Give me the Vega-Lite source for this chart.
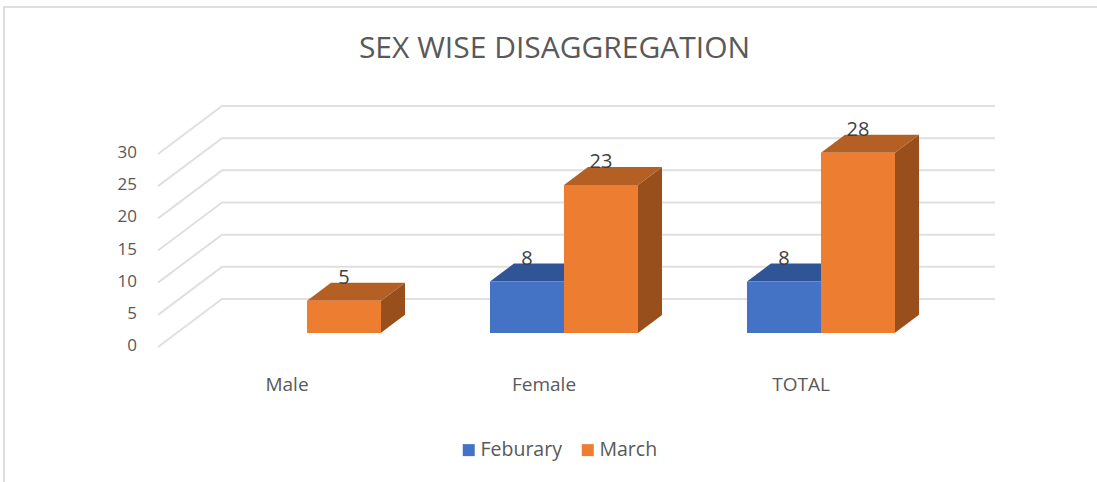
{
"$schema":"https://vega.github.io/schema/vega-lite/v6.json",
"width":835,"height":193,
"autosize":{"type":"none"},
"padding":{"left":160,"top":140,"right":102,"bottom":149},
"background":"white",
"title":{"text":"SEX WISE DISAGGREGATION","font":"Open Sans","fontSize":30,"fontWeight":"normal","color":"#595959","anchor":"middle","frame":"group","dx":-23,"offset":-61},
"config":{"view":{"stroke":null},"font":"Open Sans",
 "axisX":{"labelAngle":0,"domain":false,"ticks":false,"grid":false,"labelOffset":-20,"labelPadding":42,"labelFontSize":19,"labelFont":"Open Sans","labelColor":"#595959","title":null}},
"datasets":{
"bars":[
{"category":"Male","month":"Feburary","count":null},
{"category":"Male","month":"March","count":5},
{"category":"Female","month":"Feburary","count":8},
{"category":"Female","month":"March","count":23},
{"category":"TOTAL","month":"Feburary","count":8},
{"category":"TOTAL","month":"March","count":28}],
"ticks":[{"tick":0},{"tick":5},{"tick":10},{"tick":15},{"tick":20},{"tick":25},{"tick":30}]
},
"layer":[
{"data":{"values":[{"frame":"chart area"}]},
 "mark":{"type":"point","filled":false,"shape":"M -573.5 245.5 L -573.5 -229.5 L 519.5 -229.5","size":4,"stroke":"#dedede","strokeWidth":2,"opacity":1},
 "encoding":{}},
{"data":{"name":"ticks"},
 "mark":{"type":"point","filled":false,"shape":"M -419.5 14 L -355.5 -34 L 417.5 -34","size":4,"stroke":"#e0e0e0","strokeWidth":2,"opacity":1},
 "encoding":{"y":{"field":"tick","type":"quantitative","scale":{"domain":[0,30],"nice":false},"axis":null}}},
{"data":{"name":"ticks"},
 "mark":{"type":"text","align":"right","baseline":"middle","dx":-440.5,"dy":13,"fontSize":17,"font":"Open Sans","color":"#595959"},
 "encoding":{"y":{"field":"tick","type":"quantitative","axis":null},"text":{"field":"tick","type":"quantitative"}}},
{"data":{"name":"bars"},
 "mark":{"type":"point","filled":true,"size":4,"opacity":1,"strokeWidth":0},
 "encoding":{
  "x":{"field":"category","type":"nominal","sort":["Male","Female","TOTAL"],"title":null,"scale":{"paddingInner":0.424,"paddingOuter":0.3366,"align":0.422}},
  "xOffset":{"field":"month","type":"nominal","sort":["Feburary","March"],"scale":{"paddingInner":0,"paddingOuter":0}},
  "y":{"field":"count","type":"quantitative","axis":null},
  "shape":{"field":"count","type":"nominal","legend":null,"scale":{"domain":[5,8,23,28],"range":[
    "M 37 0 L 61 -18 L 61 14 L 37 32 Z",
    "M 37 0 L 61 -18 L 61 33 L 37 51 Z",
    "M 37 0 L 61 -18 L 61 130 L 37 148 Z",
    "M 37 0 L 61 -18 L 61 162 L 37 180 Z"]}},
  "color":{"field":"month","type":"nominal","legend":null,"scale":{"domain":["Feburary","March"],"range":["#2f5597","#994f1c"]}}
 }},
{"data":{"name":"bars"},
 "mark":{"type":"point","filled":true,"size":4,"opacity":1,"strokeWidth":0,"shape":"M -37 0 L 37 0 L 61 -18 L -13 -18 Z"},
 "encoding":{
  "x":{"field":"category","type":"nominal","sort":["Male","Female","TOTAL"],"title":null},
  "xOffset":{"field":"month","type":"nominal","sort":["Feburary","March"]},
  "y":{"field":"count","type":"quantitative","axis":null},
  "color":{"field":"month","type":"nominal","legend":null,"scale":{"domain":["Feburary","March"],"range":["#2f5597","#b45f24"]}}
 }},
{"data":{"name":"bars"},
 "mark":{"type":"bar"},
 "encoding":{
  "x":{"field":"category","type":"nominal","sort":["Male","Female","TOTAL"],"title":null},
  "xOffset":{"field":"month","type":"nominal","sort":["Feburary","March"]},
  "y":{"field":"count","type":"quantitative","axis":null},
  "color":{"field":"month","type":"nominal","scale":{"domain":["Feburary","March"],"range":["#4472c4","#ed7d31"]},
    "legend":{"title":null,"orient":"none","legendX":299,"legendY":300,"direction":"horizontal","symbolType":"square","symbolSize":144,"symbolStrokeWidth":0,"symbolOpacity":1,"labelFontSize":19.5,"labelFont":"Open Sans","labelColor":"#595959","columnPadding":16,"labelOffset":2}}
 }},
{"data":{"name":"bars"},
 "mark":{"type":"text","dy":-23,"fontSize":20,"font":"Open Sans","color":"#404040"},
 "encoding":{
  "x":{"field":"category","type":"nominal","sort":["Male","Female","TOTAL"],"title":null},
  "xOffset":{"field":"month","type":"nominal","sort":["Feburary","March"]},
  "y":{"field":"count","type":"quantitative","axis":null},
  "text":{"field":"count","type":"quantitative"}
 }}
],
"resolve":{"scale":{"color":"independent"}}
}
